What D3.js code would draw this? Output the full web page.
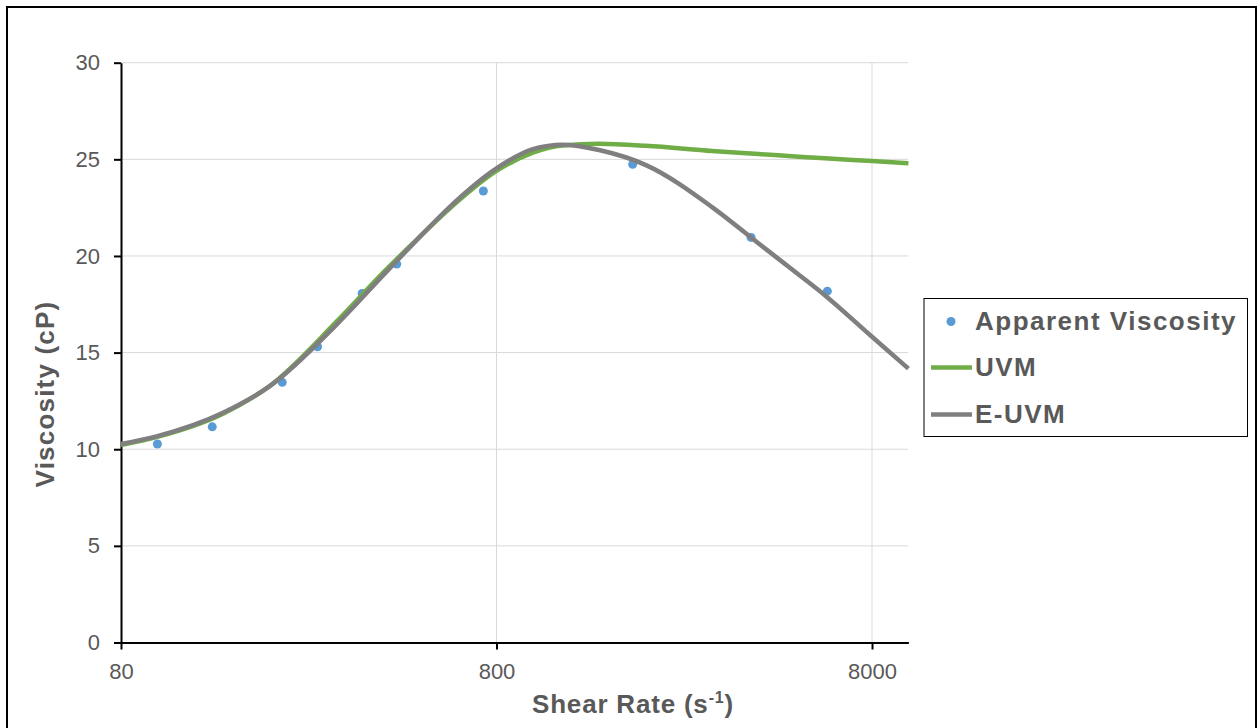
<!DOCTYPE html>
<html>
<head>
<meta charset="utf-8">
<script src="https://cdn.jsdelivr.net/npm/d3@7"></script>
<style>
    body { margin: 0; background: #fff; }
    svg { display: block; font-family: "Liberation Sans", Arial, sans-serif; }
</style>
</head>
<body>
<svg id="chart" width="1257" height="728"></svg>
<script>
"use strict";

// measured apparent viscosity
const measuredShear = [100, 140, 215, 267, 351, 434, 738, 1844, 3810, 6083];
const measuredViscosity = [10.27, 11.16, 13.46, 15.30, 18.06, 19.58, 23.36, 24.74, 20.96, 18.18];

// model curves
const modelShear = [80, 100, 150, 200, 300, 400, 500, 600, 800, 1000, 1200, 1500, 2000, 3000, 4000, 5000, 6000, 8000, 10000];
const uvmViscosity = [10.22, 10.64, 11.85, 13.30, 16.60, 19.15, 21.00, 22.45, 24.40, 25.35, 25.72, 25.80, 25.70, 25.43, 25.27, 25.15, 25.05, 24.91, 24.80];
const euvmViscosity = [10.27, 10.68, 11.90, 13.29, 16.45, 19.02, 20.99, 22.53, 24.53, 25.53, 25.76, 25.48, 24.70, 22.53, 20.63, 19.17, 17.96, 15.82, 14.17];

const xTicks = [80, 800, 8000];
const yTicks = [0, 5, 10, 15, 20, 25, 30];

const legendLabels = ["Apparent Viscosity", "UVM", "E-UVM"];
const seriesColors = ["#5B9BD5", "#70AD47", "#7F7F7F"];

const TEXT_COLOR = "#595959";

function main() {
    const svg = d3.select("#chart");

    // outer frame
    svg.append("rect")
        .attr("x", 7).attr("y", 7)
        .attr("width", 1249).attr("height", 800)
        .attr("fill", "none")
        .attr("stroke", "#000")
        .attr("stroke-width", 2);

    const x = d3.scaleLog().domain([80, 10000]).range([121, 908.4]);
    const y = d3.scaleLinear().domain([0, 30]).range([642.5, 62.7]);

    // grid
    const grid = svg.append("g");
    grid.selectAll("line.h")
        .data(yTicks.filter(d => d > 0))
        .enter().append("line")
        .attr("x1", x.range()[0]).attr("x2", x.range()[1])
        .attr("y1", d => y(d)).attr("y2", d => y(d))
        .attr("stroke", "#d9d9d9").attr("stroke-width", 1);
    grid.selectAll("line.v")
        .data(xTicks.slice(1))
        .enter().append("line")
        .attr("x1", d => x(d)).attr("x2", d => x(d))
        .attr("y1", y.range()[0]).attr("y2", y.range()[1])
        .attr("stroke", "#d9d9d9").attr("stroke-width", 1);

    // axes
    const xAxis = svg.append("g")
        .attr("transform", `translate(0, ${y(0)})`)
        .call(d3.axisBottom(x)
            .tickValues(xTicks)
            .tickFormat(d3.format("d"))
            .tickSize(7)
            .tickSizeOuter(0)
            .tickPadding(14));

    const yAxis = svg.append("g")
        .attr("transform", `translate(${x(80)}, 0)`)
        .call(d3.axisLeft(y)
            .tickValues(yTicks)
            .tickSize(7)
            .tickSizeOuter(0)
            .tickPadding(14));

    for (const axis of [xAxis, yAxis]) {
        axis.select(".domain").attr("stroke", "#000").attr("stroke-width", 2);
        axis.selectAll(".tick line").attr("stroke", "#000").attr("stroke-width", 2);
        axis.selectAll(".tick text")
            .attr("fill", TEXT_COLOR)
            .style("font-size", "22px")
            .style("font-family", "'Liberation Sans', Arial, sans-serif");
    }

    // measured points (drawn first, like the original series order)
    svg.append("g")
        .selectAll("circle")
        .data(measuredShear.map((s, i) => [s, measuredViscosity[i]]))
        .enter().append("circle")
        .attr("cx", d => x(d[0]))
        .attr("cy", d => y(d[1]))
        .attr("r", 4.5)
        .attr("fill", seriesColors[0]);

    const line = d3.line()
        .x(d => x(d[0]))
        .y(d => y(d[1]))
        .curve(d3.curveMonotoneX);

    const curves = [uvmViscosity, euvmViscosity];
    curves.forEach((values, i) => {
        svg.append("path")
            .datum(modelShear.map((s, j) => [s, values[j]]))
            .attr("d", line)
            .attr("fill", "none")
            .attr("stroke", seriesColors[i + 1])
            .attr("stroke-width", 4.5)
            .attr("stroke-linejoin", "round");
    });

    // axis titles
    const xTitle = svg.append("text")
        .attr("x", 633).attr("y", 713)
        .attr("text-anchor", "middle")
        .attr("fill", TEXT_COLOR)
        .style("font-size", "26px")
        .style("font-weight", "bold")
        .style("letter-spacing", "0.8px");
    xTitle.append("tspan").text("Shear Rate (s");
    xTitle.append("tspan").attr("dy", -10).style("font-size", "16px").text("-1");
    xTitle.append("tspan").attr("dy", 10).text(")");

    svg.append("text")
        .attr("transform", "translate(53.5, 394) rotate(-90)")
        .attr("text-anchor", "middle")
        .attr("fill", TEXT_COLOR)
        .style("font-size", "26px")
        .style("font-weight", "bold")
        .style("letter-spacing", "1.2px")
        .text("Viscosity (cP)");

    // legend
    const legend = svg.append("g");
    legend.append("rect")
        .attr("x", 924).attr("y", 298.5)
        .attr("width", 323.5).attr("height", 138)
        .attr("fill", "#fff")
        .attr("stroke", "#000")
        .attr("stroke-width", 1);

    const rowY = [321.5, 367.5, 414.5];
    legendLabels.forEach((label, i) => {
        if (i === 0) {
            legend.append("circle")
                .attr("cx", 951).attr("cy", rowY[i])
                .attr("r", 4.5)
                .attr("fill", seriesColors[i]);
        } else {
            legend.append("line")
                .attr("x1", 931).attr("x2", 972)
                .attr("y1", rowY[i]).attr("y2", rowY[i])
                .attr("stroke", seriesColors[i])
                .attr("stroke-width", 4.5);
        }
        legend.append("text")
            .attr("x", 975)
            .attr("y", rowY[i] + 8.5)
            .attr("fill", TEXT_COLOR)
            .style("font-size", "26px")
            .style("font-weight", "bold")
            .style("letter-spacing", "1.5px")
            .text(label);
    });
}

main();
</script>
</body>
</html>
